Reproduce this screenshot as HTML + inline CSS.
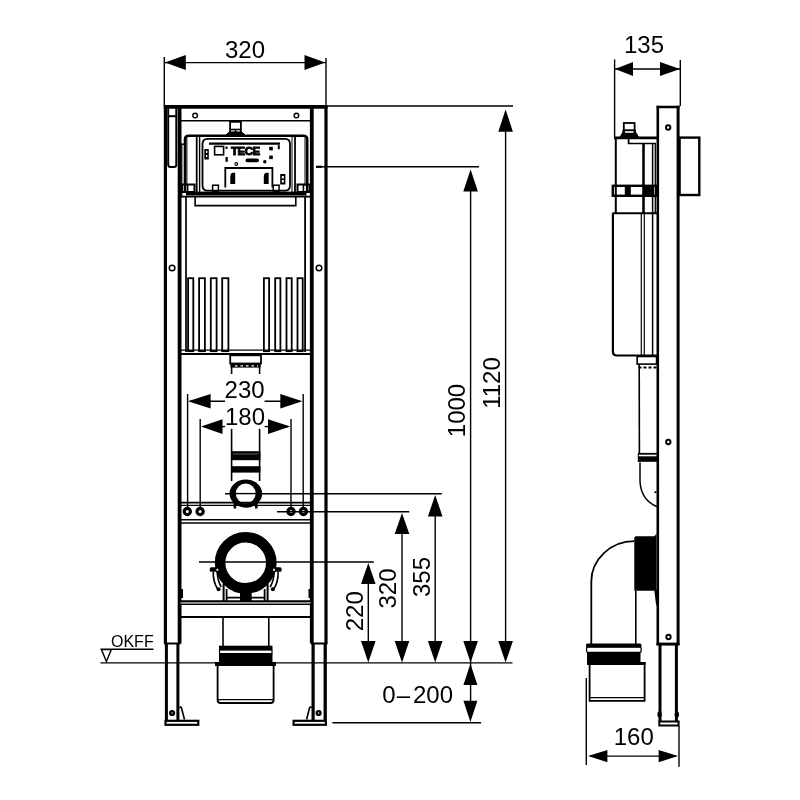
<!DOCTYPE html>
<html><head><meta charset="utf-8">
<style>
html,body{margin:0;padding:0;background:#fff;width:800px;height:800px;overflow:hidden}
svg{display:block}
text{font-family:"Liberation Sans",sans-serif;fill:#000}
svg{will-change:transform}
</style></head>
<body>
<svg width="800" height="800" viewBox="0 0 800 800">
<rect width="800" height="800" fill="#fff"/>
<g id="dims" stroke="#000" stroke-width="1.4" fill="none">
  <!-- 320 top -->
  <line x1="164" y1="62.6" x2="326" y2="62.6"/>
  <line x1="164.3" y1="57" x2="164.3" y2="106"/>
  <line x1="326" y1="58" x2="326" y2="106"/>
  <!-- 135 -->
  <line x1="615" y1="69" x2="680" y2="69"/>
  <line x1="614.6" y1="59.4" x2="614.6" y2="137"/>
  <line x1="680.3" y1="60" x2="680.3" y2="106"/>
  <!-- ext lines right -->
  <line x1="326" y1="106" x2="513" y2="106"/>
  <line x1="316" y1="166.8" x2="479" y2="166.8"/><line x1="316" y1="166.8" x2="322" y2="166.8" stroke-width="2.2"/>
  <!-- 1120 -->
  <line x1="505.6" y1="120" x2="505.6" y2="650"/>
  <!-- 1000 + 0-200 -->
  <line x1="470.6" y1="180" x2="470.6" y2="710"/>
  <!-- 355 -->
  <line x1="225" y1="493.7" x2="441.8" y2="493.7"/>
  <line x1="435.2" y1="505" x2="435.2" y2="650"/>
  <!-- 320 -->
  <line x1="277" y1="511.7" x2="409.3" y2="511.7"/>
  <line x1="402" y1="523" x2="402" y2="650"/>
  <!-- 220 -->
  <line x1="199" y1="562" x2="373.8" y2="562"/>
  <line x1="368.3" y1="573" x2="368.3" y2="650"/>
  <!-- floor -->
  <line x1="100.5" y1="662.9" x2="512.5" y2="662.9"/>
  <line x1="332.4" y1="722.8" x2="481" y2="722.8"/>
  <!-- 230 -->
  <line x1="190" y1="401.2" x2="225" y2="401.2"/>
  <line x1="264.6" y1="401.2" x2="300" y2="401.2"/>
  <line x1="187.6" y1="394" x2="187.6" y2="508"/>
  <line x1="303.2" y1="394" x2="303.2" y2="508"/>
  <!-- 180 -->
  <line x1="203" y1="426.6" x2="225" y2="426.6"/>
  <line x1="264.6" y1="426.6" x2="288" y2="426.6"/>
  <line x1="200.2" y1="419" x2="200.2" y2="508"/>
  <line x1="291" y1="419" x2="291" y2="508"/>
  <!-- OKFF -->
  <line x1="100.5" y1="649.3" x2="153.5" y2="649.3"/>
  <polygon points="101.5,649.6 111.3,649.6 106.4,661.5"/>
  <!-- 160 -->
  <line x1="590" y1="756.1" x2="676" y2="756.1"/>
  <line x1="586.3" y1="678" x2="586.3" y2="765"/>
  <line x1="679" y1="726" x2="679" y2="766.7"/>
</g>
<g id="arrows" fill="#000" stroke="none">
  <!-- 320 -->
  <polygon points="165,62.5 185.8,55 185.8,70"/>
  <polygon points="325.2,62.5 304.5,55 304.5,70"/>
  <!-- 135 -->
  <polygon points="615,69 633,62 633,76"/>
  <polygon points="680,69 660,62 660,76"/>
  <!-- 1120 -->
  <polygon points="505.6,109.4 498.3,131.7 512.9,131.7"/>
  <polygon points="505.6,662.5 498.3,641 512.9,641"/>
  <!-- 1000 -->
  <polygon points="470.6,169.4 463.3,191.4 477.9,191.4"/>
  <polygon points="470.6,662.5 463.3,641 477.9,641"/>
  <!-- 355 -->
  <polygon points="435.2,495 427.9,516.5 442.5,516.5"/>
  <polygon points="435.2,662.5 427.9,641 442.5,641"/>
  <!-- 320 -->
  <polygon points="402,513 394.7,534 409.3,534"/>
  <polygon points="402,662.5 394.7,641 409.3,641"/>
  <!-- 220 -->
  <polygon points="368.3,563 361,584 375.6,584"/>
  <polygon points="368.3,662.5 361,641 375.6,641"/>
  <!-- 0-200 -->
  <polygon points="470.4,663.8 463.4,685 477.4,685"/>
  <polygon points="470.4,722 463.4,700.8 477.4,700.8"/>
  <!-- 230 -->
  <polygon points="188,401.2 210.6,394 210.6,408.5"/>
  <polygon points="302.4,401.2 280.3,394 280.3,408.5"/>
  <!-- 180 -->
  <polygon points="201,426.6 222.5,419.3 222.5,434"/>
  <polygon points="290.2,426.6 268,419.3 268,434"/>
  <!-- 160 -->
  <polygon points="588,756.1 607.4,750 607.4,762.2"/>
  <polygon points="678,756.1 658.6,750 658.6,762.2"/>
</g>

<g id="front" stroke="#000" fill="none">
  <!-- posts -->
  <line x1="165.4" y1="105" x2="165.4" y2="643.5" stroke-width="3.2"/>
  <line x1="179.6" y1="105" x2="179.6" y2="643.5" stroke-width="3.8"/>
  <line x1="311.8" y1="105" x2="311.8" y2="643.5" stroke-width="3.8"/>
  <line x1="326" y1="105" x2="326" y2="643.5" stroke-width="3.2"/>
  <line x1="166.4" y1="643" x2="166.4" y2="721" stroke-width="3"/>
  <line x1="177.9" y1="643" x2="177.9" y2="721" stroke-width="3"/>
  <line x1="313.1" y1="643" x2="313.1" y2="721" stroke-width="3.2"/>
  <line x1="325.2" y1="643" x2="325.2" y2="721" stroke-width="3.3"/>
  <line x1="163.8" y1="106.9" x2="327.5" y2="106.9" stroke-width="3.6"/>
  <line x1="164" y1="643.5" x2="180.5" y2="643.5" stroke-width="2"/>
  <line x1="311" y1="643.5" x2="327.5" y2="643.5" stroke-width="2"/>
  <!-- left strip top -->
  <path d="M168.2,107 V164.5 Q168.2,167 170.5,167 H174 Q176.3,167 176.3,164.5 V107" stroke-width="2"/>
  <line x1="168" y1="116.2" x2="176.5" y2="116.2" stroke-width="2"/>
  <line x1="180" y1="144.2" x2="184" y2="144.2" stroke-width="1.5"/>
  <line x1="181.8" y1="145" x2="181.8" y2="196" stroke-width="1.2"/>
  <!-- feet -->
  <rect x="165.5" y="720.8" width="32.8" height="4" stroke-width="2.2"/>
  <rect x="293.6" y="720.8" width="32.3" height="4" stroke-width="2.2"/>
  <circle cx="172.1" cy="713" r="1.9" stroke-width="2.4"/>
  <circle cx="318.6" cy="713" r="1.9" stroke-width="2.4"/>
  <path d="M179.3,707.5 Q181,706.5 181.5,708 L184.5,719.5" stroke-width="1.6"/>
  <path d="M311.8,707.5 Q310,706.5 309.5,708 L306.6,719.5" stroke-width="1.6"/>
  <!-- top plate -->
  <line x1="180" y1="120.8" x2="311" y2="120.8" stroke-width="1.5"/>
  <circle cx="195.1" cy="115.6" r="2.3" stroke-width="1.4"/>
  <circle cx="296.4" cy="115.6" r="2.3" stroke-width="1.4"/>
  <!-- tank holes -->
  <circle cx="172.1" cy="268" r="2.8" stroke-width="1.5"/>
  <circle cx="319" cy="268" r="2.8" stroke-width="1.5"/>
  <!-- tank -->
  <line x1="186" y1="196" x2="186" y2="352" stroke-width="1.7"/>
  <line x1="305.1" y1="196" x2="305.1" y2="352" stroke-width="1.8"/>
  
  <path d="M195.1,197 V205.6 H295.8 V197" stroke-width="1.6"/>
  <line x1="180" y1="350.1" x2="311" y2="350.1" stroke-width="1.2"/>
  <line x1="180" y1="354" x2="311" y2="354" stroke-width="2.2"/>
  <g stroke-width="1.8">
    <rect x="188.1" y="278.2" width="5.2" height="73"/>
    <rect x="199.1" y="278.2" width="5.8" height="73"/>
    <rect x="210.8" y="278.2" width="5.8" height="73"/>
    <rect x="222.2" y="278.2" width="6.2" height="73"/>
    <rect x="263.9" y="278.2" width="5.2" height="73"/>
    <rect x="275.2" y="278.2" width="5.2" height="73"/>
    <rect x="286.5" y="278.2" width="5.2" height="73"/>
    <rect x="297.5" y="278.2" width="5.2" height="73"/>
  </g>
  <!-- drain connector -->
  <rect x="230.2" y="355.3" width="30.8" height="8.2" stroke-width="1.8"/>
  <rect x="230.5" y="364" width="30" height="3.6" fill="#000" stroke="none"/><line x1="235" y1="365.8" x2="258" y2="365.8" stroke="#fff" stroke-width="1.3" stroke-dasharray="2.5,3"/>
  <line x1="231.6" y1="363" x2="231.6" y2="374" stroke-width="1.6"/>
  <line x1="259.6" y1="363" x2="259.6" y2="374" stroke-width="1.6"/>
  <line x1="231.6" y1="428.8" x2="231.6" y2="481" stroke-width="1.6"/>
  <line x1="259.6" y1="428.8" x2="259.6" y2="481" stroke-width="1.6"/>
  <rect x="231" y="451.2" width="29.4" height="9" fill="#000" stroke="none"/><line x1="233" y1="454" x2="258.5" y2="454" stroke="#777" stroke-width="0.8"/>
  <rect x="231" y="466.2" width="29.4" height="6.4" fill="#000" stroke="none"/>
  <ellipse cx="245.85" cy="493.6" rx="16.35" ry="14.1" fill="#000" stroke="none"/><circle cx="245.7" cy="493.45" r="9.9" fill="#fff" stroke="none"/><line x1="232" y1="493.6" x2="260" y2="493.6" stroke-width="1.4"/>
  <rect x="233.6" y="502" width="2.6" height="6.5" fill="#000" stroke="none"/>
  <rect x="255" y="502" width="2.6" height="6.5" fill="#000" stroke="none"/>
  <!-- crossbar 1 -->
  <line x1="180" y1="502.6" x2="311" y2="502.6" stroke-width="1.7"/>
  <line x1="180" y1="505.4" x2="311" y2="505.4" stroke-width="1.4"/>
  <line x1="180" y1="519.7" x2="311" y2="519.7" stroke-width="1.6"/>
  <line x1="180" y1="523" x2="311" y2="523" stroke-width="1.7"/>
  <g stroke-width="3.2">
    <circle cx="187.3" cy="511.5" r="3.1"/>
    <circle cx="200.1" cy="511.5" r="3.1"/>
    <circle cx="291" cy="511.5" r="3.1"/>
    <circle cx="303.4" cy="511.5" r="3.1"/>
  </g>
  <!-- big ring -->
  <circle cx="245.7" cy="562.8" r="25.6" stroke-width="10.6"/>

  <!-- ring clamps -->
  <g stroke-width="1.6">
    <path d="M213.3,571.5 Q212.8,582 218.2,590"/>
    <path d="M217.3,571.5 Q217.3,580 221.2,587"/>
    <path d="M278.1,571.5 Q278.6,582 273.2,590"/>
    <path d="M274.1,571.5 Q274.1,580 270.2,587"/>
    <line x1="223.6" y1="584" x2="223.6" y2="601" stroke-width="2"/>
    <line x1="226.6" y1="589" x2="226.6" y2="601" stroke-width="1.8"/>
    <line x1="267.6" y1="584" x2="267.6" y2="601" stroke-width="2"/>
    <line x1="264.6" y1="589" x2="264.6" y2="601" stroke-width="1.8"/>
    <line x1="223.9" y1="583.8" x2="267.5" y2="583.8"/>
    <line x1="226.3" y1="597.6" x2="265.1" y2="597.6"/>
  </g>
  <g fill="#000" stroke="none">
    <rect x="209.8" y="567.2" width="9.6" height="4.6" rx="1.5"/>
    <rect x="272" y="567.2" width="9.6" height="4.6" rx="1.5"/>
    <circle cx="218.6" cy="589.3" r="2"/>
    <circle cx="272.8" cy="589.3" r="2"/>
    <rect x="240" y="591" width="11.7" height="10"/>
    <rect x="180" y="589" width="3" height="9"/>
    <rect x="308.5" y="589" width="3" height="9"/>
  </g>
  <rect x="216.5" y="568.8" width="1.8" height="2" fill="#fff" stroke="none"/>
  <rect x="273.1" y="568.8" width="1.8" height="2" fill="#fff" stroke="none"/>
  <!-- crossbar 2 -->
  <line x1="180" y1="601.3" x2="311" y2="601.3" stroke-width="2"/><line x1="180" y1="604.2" x2="311" y2="604.2" stroke-width="1.6"/><line x1="180" y1="602.8" x2="311" y2="602.8" stroke="#888" stroke-width="1.2"/>
  <line x1="180" y1="617" x2="311" y2="617" stroke-width="2"/>
  <!-- lower pipe -->
  <line x1="223" y1="617" x2="223" y2="646" stroke-width="1.6"/>
  <line x1="268.8" y1="617" x2="268.8" y2="646" stroke-width="1.6"/>
  <rect x="219" y="645.7" width="53.5" height="4.3" fill="#000" stroke="none"/>
  <rect x="219.5" y="650" width="52.5" height="3.6" stroke-width="1.2"/>
  <rect x="219" y="653.6" width="53.5" height="9" fill="#000" stroke="none"/>
  <rect x="215" y="662" width="61" height="4" fill="#000" stroke="none"/>
  <path d="M217.6,666 V700 Q217.6,703 220.6,703 H270.6 Q273.6,703 273.6,700 V666" stroke-width="1.8"/>
  <line x1="218" y1="699.6" x2="273" y2="699.6" stroke-width="1.2"/>
</g>

<g id="flushbox" stroke="#000" fill="none">
  <!-- connector -->
  <rect x="230.1" y="121.8" width="10.8" height="10.5" stroke-width="1.8"/>
  <line x1="231" y1="129.5" x2="240" y2="129.5" stroke-width="1.6"/>
  <line x1="235.5" y1="129.5" x2="235.5" y2="133" stroke-width="1.4"/>
  <path d="M226,135 L228.5,132.5 H242.5 L245,135 Z" fill="#000" stroke-width="1"/>
  <!-- outer box -->
  <path d="M185,193 V139.5 Q185,135.7 189,135.7 H303 Q307.2,135.7 307.2,139.5 V193" stroke-width="2.6"/>
  <line x1="186.9" y1="138" x2="186.9" y2="186" stroke-width="1"/>
  <line x1="196.7" y1="137" x2="196.7" y2="192" stroke-width="1.8"/>
  <line x1="295" y1="137" x2="295" y2="192" stroke-width="1.8"/>
  <line x1="305" y1="138" x2="305" y2="186" stroke-width="1"/>
  <line x1="199.6" y1="137" x2="199.6" y2="192" stroke-width="1.4"/>
  <line x1="292" y1="137" x2="292" y2="192" stroke-width="1"/>
  <!-- panel -->
  <path d="M202.5,185.5 V144 Q202.5,138.8 207.5,138.8 H285 Q290,138.8 290,144 V185.5 Q290,190.6 285,190.6 H207.5 Q202.5,190.6 202.5,185.5 Z" stroke-width="1.8"/>
  <line x1="209" y1="143.6" x2="280" y2="143.6" stroke-width="2.3"/>
  <path d="M225.3,187.5 V168 H272.4 V187.5" stroke-width="1.8"/>
  <rect x="214.6" y="146.4" width="9" height="8.4" stroke-width="1.6"/>
  <text x="231" y="155.5" font-size="11" font-weight="bold" stroke="#000" stroke-width="0.9" transform="translate(231,0) scale(1.05,1) translate(-231,0)" letter-spacing="-0.5">TECE</text>
  <g fill="#000" stroke="none">
    <rect x="204.3" y="149" width="4.5" height="10.5"/>
    <rect x="225.5" y="157" width="2.3" height="4.8"/>
    <rect x="225.5" y="146.5" width="2" height="2.5"/>
    <rect x="269.2" y="146.8" width="3.6" height="3.6"/>
    <rect x="269.2" y="155.5" width="3.6" height="3.6"/>
    <rect x="277.8" y="145.2" width="2" height="4"/>
    <rect x="245.5" y="158.6" width="13.5" height="3.6" rx="1.8"/>
    <circle cx="264.8" cy="161.8" r="1.7"/>
    <path d="M230.3,184 V176 Q230.5,173 233,172.8 H235.2 V184 Z"/>
    <path d="M263.8,184 V176 Q264,173 266.5,172.8 H268.7 V184 Z"/>
    <rect x="280.2" y="174" width="5.2" height="10.5"/>
    <rect x="186" y="191.6" width="120.5" height="3.9"/>
  </g>
  <g fill="#fff" stroke="none">
    <rect x="206" y="151" width="1.3" height="2"/>
    <rect x="206" y="155" width="1.3" height="2"/>
    <rect x="281.8" y="176" width="2" height="2.5"/>
    <rect x="281.8" y="180" width="2" height="2.5"/>
  </g>
  <circle cx="236.3" cy="164" r="1.4" stroke-width="1.1"/>
  <rect x="212.6" y="185.2" width="5.8" height="6" stroke-width="1.5"/>
  <rect x="273.3" y="185.2" width="5.8" height="6" stroke-width="1.5"/>
  <rect x="182" y="184.5" width="12.5" height="7.5" stroke-width="2"/>
  <line x1="187.6" y1="184.5" x2="187.6" y2="192" stroke-width="1.6"/>
  <rect x="297.5" y="184.5" width="12.3" height="7.5" stroke-width="2"/>
  <line x1="303.4" y1="184.5" x2="303.4" y2="192" stroke-width="1.6"/>
  <line x1="180" y1="196.6" x2="311" y2="196.6" stroke-width="1.9"/>
</g>

<g id="side" stroke="#000" fill="none">
  <!-- frame profile -->
  <line x1="657.8" y1="105.8" x2="657.8" y2="645" stroke-width="2.6"/>
  <line x1="678.1" y1="105.8" x2="678.1" y2="645" stroke-width="3"/>
  <line x1="660" y1="644" x2="660" y2="722" stroke-width="3"/>
  <line x1="676.4" y1="644" x2="676.4" y2="722" stroke-width="3"/>
  <ellipse cx="659.6" cy="714.5" rx="2.2" ry="3.3" fill="#000" stroke="none"/>
  <ellipse cx="676.8" cy="714.5" rx="2.2" ry="3.3" fill="#000" stroke="none"/>
  <line x1="656.6" y1="107" x2="679.6" y2="107" stroke-width="2.5"/>
  <line x1="656.5" y1="644.1" x2="679.5" y2="644.1" stroke-width="3"/>
  <rect x="659.3" y="721.5" width="19.3" height="4" stroke-width="2"/>
  <circle cx="668.2" cy="127.5" r="2.2" stroke-width="1.9"/>
  <circle cx="668.3" cy="442" r="2.2" stroke-width="1.9"/>
  <circle cx="668.5" cy="637" r="2.2" stroke-width="1.9"/>
  <!-- bracket -->
  <rect x="679.6" y="137.6" width="19.7" height="57.4" stroke-width="2.4"/>
  <!-- tank -->
  <line x1="614" y1="137.9" x2="657" y2="137.9" stroke-width="2.8"/>
  <line x1="615.8" y1="137" x2="615.8" y2="213.5" stroke-width="2"/>
  <path d="M612.9,213.3 V351.5 Q612.9,355.5 617,355.5 H657" stroke-width="2.2"/>
  <line x1="612.4" y1="213.3" x2="657" y2="213.3" stroke-width="2"/>
  <rect x="612.8" y="185.8" width="43.4" height="10" stroke-width="2.4"/>
  <rect x="624.8" y="186" width="6" height="10" fill="#000" stroke="none"/>
  <rect x="644" y="186" width="10" height="10" fill="#000" stroke="none"/>
  <line x1="643.5" y1="144" x2="643.5" y2="213" stroke-width="2.6"/>
  <line x1="641.3" y1="213" x2="641.3" y2="355" stroke-width="1.2"/>
  <line x1="644.3" y1="213" x2="644.3" y2="355" stroke-width="1.2"/>
  <line x1="652.6" y1="144" x2="652.6" y2="355" stroke-width="1.5"/>
  <line x1="655.3" y1="144" x2="655.3" y2="213" stroke-width="1.3"/>
  <path d="M628.6,139 V143.5 H656" stroke-width="1.7"/>
  <rect x="623.8" y="123" width="10.8" height="7.5" stroke-width="1.8"/>
  <path d="M620,137 L623,132 V130 H635.5 V132 L638.5,137 Z" fill="#000" stroke-width="1"/><rect x="625" y="131.2" width="8.5" height="1.6" fill="#fff" stroke="none"/>
  <!-- drain connector -->
  <rect x="637.2" y="356.5" width="19.4" height="7.6" stroke-width="1.6"/>
  <line x1="638.5" y1="367.4" x2="656.5" y2="367.4" stroke-width="2" stroke-dasharray="3,2"/>
  <line x1="639.2" y1="364" x2="639.4" y2="453" stroke-width="1.6"/>
  <line x1="638.3" y1="453.8" x2="657" y2="453.8" stroke-width="1.8"/><line x1="638.3" y1="453" x2="638.3" y2="462" stroke-width="1"/>
  <rect x="638" y="456.3" width="19.5" height="5.5" fill="#000" stroke="none"/><rect x="654.5" y="491.3" width="2" height="1.8" fill="#000" stroke="none"/>
  <path d="M640,462.6 V481.5 Q641,500 657.2,506.8" stroke-width="1.5"/>
  <!-- black block -->
  <path d="M634.3,537.5 L635.5,536.3 H654.5 L656.5,533.5 V590.7 H634.3 Z" fill="#000" stroke="none"/><path d="M654.3,590 H657.5 V608 L655.8,603 Z" fill="#000" stroke="none"/>
  <path d="M634.3,541.2 A43,40.5 0 0 0 591.3,581.7 V644" stroke-width="1.8"/>
  <line x1="635.8" y1="590.7" x2="635.8" y2="644" stroke-width="1.6"/>
  <!-- bottom coupling -->
  <rect x="586" y="643.5" width="55.5" height="3.8" rx="1.5" fill="#000" stroke="none"/>
  <rect x="586.6" y="647" width="54.5" height="5.3" rx="1" stroke-width="1.3"/>
  <rect x="587" y="652" width="53.5" height="13" fill="#000" stroke="none"/>
  <rect x="588.5" y="662" width="57.3" height="3" fill="#000" stroke="none"/>
  <path d="M589.6,665 V700.8 H644.6 V665" stroke-width="1.8"/>
  <line x1="590" y1="697.6" x2="644" y2="697.6" stroke-width="1.4"/>
</g>
<g id="labels" font-size="24">
  <text x="245" y="58" text-anchor="middle">320</text>
  <text x="644" y="53.3" text-anchor="middle">135</text>
  <text x="633.8" y="744.7" text-anchor="middle">160</text>
  <text x="382.3" y="703">0</text><text x="396.8" y="703">–</text><text x="413" y="703">200</text>
  <text x="244.6" y="398.2" text-anchor="middle">230</text>
  <text x="245" y="425" text-anchor="middle">180</text>
  <text transform="translate(499.5,383) rotate(-90)" text-anchor="middle">1120</text>
  <text transform="translate(464.5,410.5) rotate(-90)" text-anchor="middle">1000</text>
  <text transform="translate(430,577) rotate(-90)" text-anchor="middle">355</text>
  <text transform="translate(396.3,588.5) rotate(-90)" text-anchor="middle">320</text>
  <text transform="translate(362.5,611.3) rotate(-90)" text-anchor="middle">220</text>
  <text x="111" y="646.8" font-size="16">OKFF</text>
</g>
</svg>
</body></html>
